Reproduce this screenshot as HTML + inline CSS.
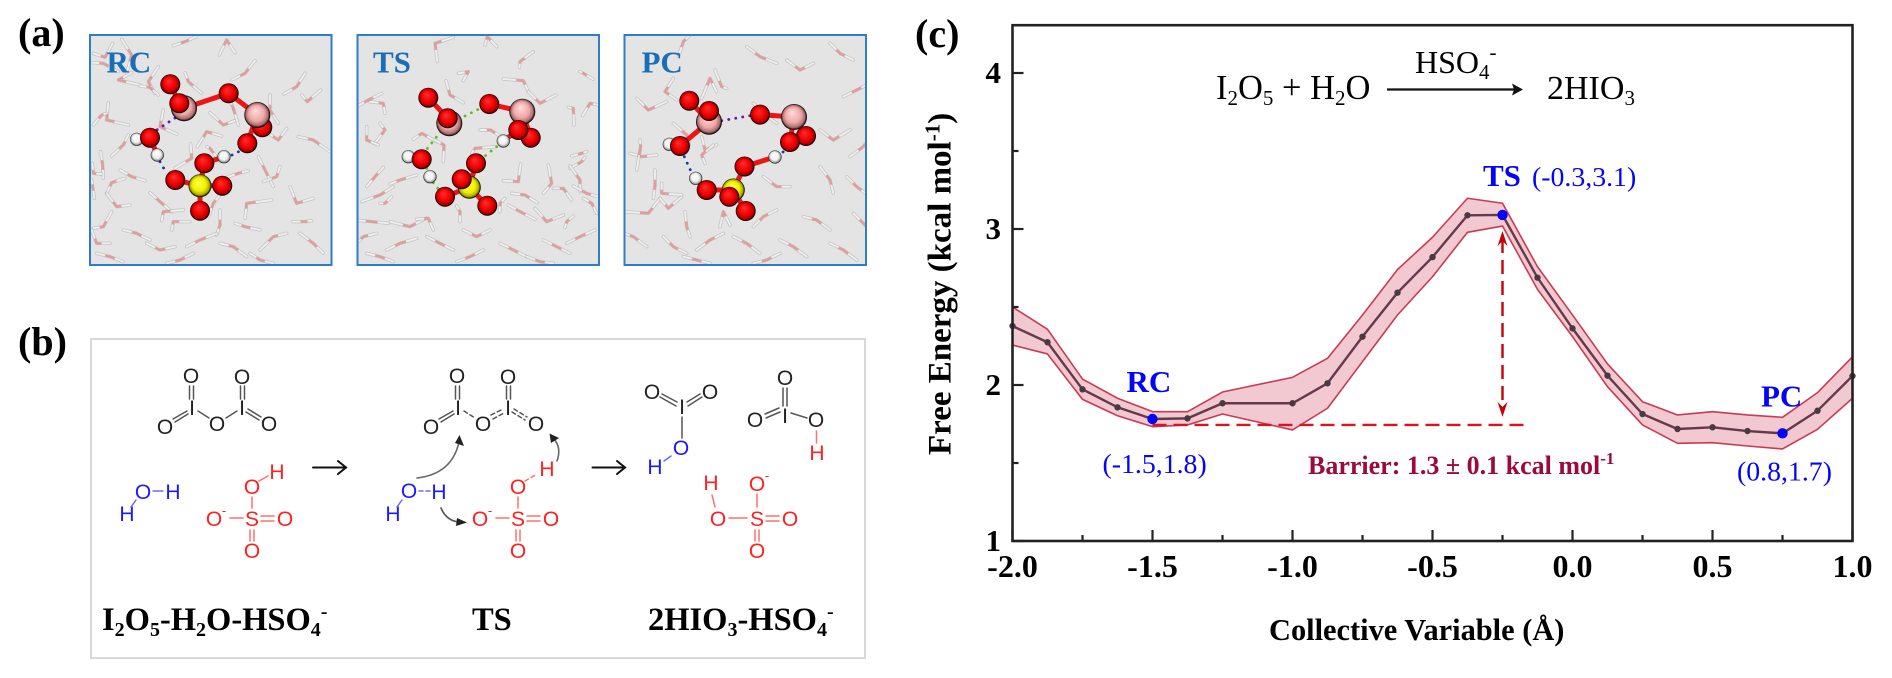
<!DOCTYPE html>
<html lang="en">
<head>
<meta charset="utf-8">
<title>Free energy profile of I2O5 hydrolysis</title>
<style>
html,body{margin:0;padding:0;background:#fff;width:1892px;height:678px;overflow:hidden}
svg{display:block}
text{font-family:"Liberation Serif",serif}
.chem text{font-family:"Liberation Sans",sans-serif;font-size:21px;text-anchor:middle}
.chem line,.chem path,.chem polyline{fill:none;stroke-linecap:round}
.bk text{fill:#222}.bk line{stroke:#555;stroke-width:1.5}
.bl text{fill:#1a1aff}.bl line{stroke:#6a6aff;stroke-width:1.5}
.rd text{fill:#ff2020}.rd line{stroke:#ff7070;stroke-width:1.5}
.dash line{stroke-dasharray:4 3}
</style>
</head>
<body>
<svg id="fig" xmlns="http://www.w3.org/2000/svg" width="1892" height="678" viewBox="0 0 1892 678">
<defs>
<radialGradient id="g-red" cx="50%" cy="50%" r="50%" fx="40%" fy="32%"><stop offset="0" stop-color="#ff3030"/><stop offset=".6" stop-color="#f00000"/><stop offset=".86" stop-color="#a80000"/><stop offset=".96" stop-color="#200000"/><stop offset="1" stop-color="#000"/></radialGradient>
<radialGradient id="g-pink" cx="50%" cy="50%" r="50%" fx="42%" fy="32%"><stop offset="0" stop-color="#ffdcdc"/><stop offset=".6" stop-color="#f0a8a8"/><stop offset=".86" stop-color="#a86e6e"/><stop offset=".96" stop-color="#201010"/><stop offset="1" stop-color="#000"/></radialGradient>
<radialGradient id="g-yellow" cx="50%" cy="50%" r="50%" fx="42%" fy="34%"><stop offset="0" stop-color="#ffff50"/><stop offset=".6" stop-color="#f0f000"/><stop offset=".86" stop-color="#a8a800"/><stop offset=".96" stop-color="#202000"/><stop offset="1" stop-color="#000"/></radialGradient>
<radialGradient id="g-white" cx="50%" cy="50%" r="50%" fx="42%" fy="34%"><stop offset="0" stop-color="#fff"/><stop offset=".6" stop-color="#f0f0f0"/><stop offset=".86" stop-color="#a8a8a8"/><stop offset=".96" stop-color="#222"/><stop offset="1" stop-color="#000"/></radialGradient>
<clipPath id="clip-rc"><rect x="90" y="35" width="242" height="230"/></clipPath>
<clipPath id="clip-ts"><rect x="357" y="35" width="242" height="230"/></clipPath>
<clipPath id="clip-pc"><rect x="624" y="35" width="242" height="230"/></clipPath>
</defs>

<text x="18" y="46" font-size="40" font-weight="bold">(a)</text>
<text x="18" y="355" font-size="40" font-weight="bold">(b)</text>
<text x="915" y="47" font-size="40" font-weight="bold">(c)</text>

<g id="snapshots"></g>

<g>
<rect x="91" y="339" width="774" height="319" fill="#fff" stroke="#d8d8d8" stroke-width="2"/>
<g class="chem">
<!-- reactant I2O5 -->
<g class="bk">
<text x="191" y="383">O</text><text x="242" y="384">O</text><text x="165" y="434">O</text><text x="217" y="431">O</text><text x="269" y="431">O</text>
<text x="192" y="415">I</text><text x="242" y="415">I</text>
<line x1="189.5" y1="386" x2="189.5" y2="399"/><line x1="193.5" y1="386" x2="193.5" y2="399"/>
<line x1="240.5" y1="386" x2="240.5" y2="399"/><line x1="244.5" y1="386" x2="244.5" y2="399"/>
<line x1="173" y1="419" x2="187" y2="411"/><line x1="175" y1="422" x2="188" y2="414"/>
<line x1="198" y1="411" x2="209" y2="418"/><line x1="226" y1="418" x2="237" y2="411"/>
<line x1="248" y1="409" x2="261" y2="417"/><line x1="246" y1="412" x2="259" y2="420"/>
</g>
<g class="bl">
<text x="143" y="499">O</text><text x="173" y="499">H</text><text x="127" y="521">H</text>
<line x1="153" y1="491" x2="163" y2="491"/><line x1="136" y1="500" x2="131" y2="507"/>
</g>
<g class="rd">
<text x="252" y="494">O</text><text x="277" y="479">H</text><text x="214" y="526">O</text><text x="252" y="526">S</text><text x="285" y="526">O</text><text x="252" y="558">O</text>
<text x="224" y="515" style="font-size:13px">-</text>
<line x1="259" y1="481" x2="268" y2="476"/><line x1="252" y1="497" x2="252" y2="508"/><line x1="230" y1="518" x2="243" y2="518"/>
<line x1="261" y1="516" x2="274" y2="516"/><line x1="261" y1="521" x2="274" y2="521"/>
<line x1="250" y1="530" x2="250" y2="541"/><line x1="254" y1="530" x2="254" y2="541"/>
</g>
<g><line x1="313" y1="467.5" x2="346" y2="467.5" stroke="#111" stroke-width="2"/><polyline points="338,461 346,467.5 338,474" stroke="#111" stroke-width="2"/></g>

<!-- TS -->
<g class="bk">
<text x="457" y="383">O</text><text x="508" y="384">O</text><text x="431" y="434">O</text><text x="483" y="431">O</text><text x="536" y="431">O</text>
<text x="458" y="415">I</text><text x="508" y="415">I</text>
<line x1="455.5" y1="386" x2="455.5" y2="399"/><line x1="459.5" y1="386" x2="459.5" y2="399"/>
<line x1="506.5" y1="386" x2="506.5" y2="399"/><line x1="510.5" y1="386" x2="510.5" y2="399"/>
<line x1="439" y1="419" x2="453" y2="411"/><line x1="441" y1="422" x2="454" y2="414"/>
<g class="dash"><line x1="464" y1="411" x2="475" y2="418"/><line x1="491" y1="415" x2="503" y2="409"/><line x1="493" y1="419" x2="504" y2="413"/><line x1="514" y1="409" x2="527" y2="417"/><line x1="512" y1="412" x2="525" y2="420"/></g>
</g>
<g class="bl">
<text x="409" y="498">O</text><text x="439" y="499">H</text><text x="393" y="521">H</text>
<g class="dash"><line x1="419" y1="491" x2="430" y2="491"/></g><line x1="402" y1="500" x2="397" y2="507"/>
</g>
<g class="rd">
<text x="518" y="494">O</text><text x="547" y="476">H</text><text x="480" y="526">O</text><text x="518" y="526">S</text><text x="551" y="526">O</text><text x="518" y="558">O</text>
<text x="490" y="515" style="font-size:13px">-</text>
<g class="dash"><line x1="525" y1="481" x2="537" y2="474"/></g><line x1="518" y1="497" x2="518" y2="508"/><line x1="496" y1="518" x2="509" y2="518"/>
<line x1="527" y1="516" x2="540" y2="516"/><line x1="527" y1="521" x2="540" y2="521"/>
<line x1="516" y1="530" x2="516" y2="541"/><line x1="520" y1="530" x2="520" y2="541"/>
</g>
<g><path d="M417 478 Q452 474 459 442" stroke="#666" stroke-width="1.6"/><polygon points="459.5,435 464,446 455,443" fill="#222"/></g>
<g><path d="M557 461 Q562 447 553 438" stroke="#666" stroke-width="1.6"/><polygon points="549.5,433.5 559,438 551,443" fill="#222"/></g>
<g><path d="M441 508 Q447 522 461 522" stroke="#555" stroke-width="1.6"/><polygon points="467,522.5 456,526 457,518" fill="#222"/></g>
<g><line x1="592.5" y1="467.5" x2="625" y2="467.5" stroke="#111" stroke-width="2"/><polyline points="617,461 625,467.5 617,474" stroke="#111" stroke-width="2"/></g>

<!-- Product -->
<g class="bk">
<text x="652" y="399">O</text><text x="710" y="399">O</text><text x="682" y="414">I</text>
<line x1="662" y1="394" x2="677" y2="402"/><line x1="660" y1="397" x2="676" y2="406"/>
<line x1="700" y1="394" x2="687" y2="402"/><line x1="702" y1="397" x2="688" y2="406"/>
<line x1="682" y1="417" x2="682" y2="438"/>
</g>
<g class="bl">
<text x="681" y="455">O</text><text x="655" y="474">H</text><line x1="671" y1="456" x2="664" y2="461"/>
</g>
<g class="bk">
<text x="785" y="385">O</text><text x="755" y="427">O</text><text x="785" y="423">I</text><text x="816" y="427">O</text>
<line x1="783" y1="388" x2="783" y2="406"/><line x1="787" y1="388" x2="787" y2="406"/>
<line x1="765" y1="414" x2="779" y2="408"/><line x1="766" y1="418" x2="780" y2="412"/>
<line x1="791" y1="413" x2="807" y2="418"/>
</g>
<g class="rd"><text x="817" y="460">H</text><line x1="816.5" y1="431" x2="816.5" y2="443"/></g>
<g class="rd">
<text x="711" y="490">H</text><text x="718" y="526">O</text><text x="757" y="526">S</text><text x="757" y="491">O</text><text x="790" y="526">O</text><text x="757" y="558">O</text>
<text x="767" y="480" style="font-size:13px">-</text>
<line x1="712" y1="495" x2="715" y2="507"/><line x1="729" y1="518" x2="747" y2="518"/><line x1="757" y1="494" x2="757" y2="507"/>
<line x1="766" y1="516" x2="779" y2="516"/><line x1="766" y1="521" x2="779" y2="521"/>
<line x1="755" y1="530" x2="755" y2="541"/><line x1="759" y1="530" x2="759" y2="541"/>
</g>
</g>
<text x="102" y="630" font-size="32.5" font-weight="bold">I<tspan dy="6" font-size="20">2</tspan><tspan dy="-6">O</tspan><tspan dy="6" font-size="20">5</tspan><tspan dy="-6">-H</tspan><tspan dy="6" font-size="20">2</tspan><tspan dy="-6">O-HSO</tspan><tspan dy="6" font-size="20">4</tspan><tspan dy="-18" font-size="20">-</tspan></text>
<text x="472" y="630" font-size="32.5" font-weight="bold">TS</text>
<text x="648" y="630" font-size="32.5" font-weight="bold">2HIO<tspan dy="6" font-size="20">3</tspan><tspan dy="-6">-HSO</tspan><tspan dy="6" font-size="20">4</tspan><tspan dy="-18" font-size="20">-</tspan></text>
</g>

<g id="chart"></g>

<text x="1216" y="99" font-size="34.5">I<tspan dy="6" font-size="21">2</tspan><tspan dy="-6">O</tspan><tspan dy="6" font-size="21">5</tspan><tspan dy="-6"> + H</tspan><tspan dy="6" font-size="21">2</tspan><tspan dy="-6">O</tspan></text>
<g><line x1="1387" y1="89.5" x2="1515" y2="89.5" stroke="#111" stroke-width="2.2"/><polygon points="1523,89.5 1512,83.5 1514,89.5 1512,95.5" fill="#111"/></g>
<text x="1415" y="73" font-size="32">HSO<tspan dy="6" font-size="21">4</tspan><tspan dy="-20" font-size="21">-</tspan></text>
<text x="1547" y="99" font-size="34">2HIO<tspan dy="6" font-size="21">3</tspan></text>
<text x="1308" y="474" font-size="26" font-weight="bold" fill="#9c0a3c">Barrier: 1.3 ± 0.1 kcal mol<tspan dy="-10" font-size="17">-1</tspan></text>

<script>
// ---- Chart data ----
const cvValues = [-2,-1.875,-1.75,-1.625,-1.5,-1.375,-1.25,-1,-0.875,-0.75,-0.625,-0.5,-0.375,-0.25,-0.125,0,0.125,0.25,0.375,0.5,0.625,0.75,0.875,1];
const freeEnergy = [2.378,2.274,1.972,1.857,1.782,1.786,1.883,1.883,2.011,2.31,2.592,2.82,3.088,3.09,2.688,2.363,2.06,1.814,1.718,1.729,1.705,1.69,1.835,2.058];
const upperBand = [2.5,2.357,2.038,1.915,1.829,1.829,1.955,2.049,2.171,2.449,2.74,2.947,3.197,3.165,2.758,2.449,2.135,1.893,1.808,1.829,1.808,1.793,1.951,2.181];
const lowerBand = [2.256,2.199,1.908,1.803,1.733,1.744,1.814,1.712,1.851,2.15,2.449,2.694,2.979,3.019,2.613,2.31,1.989,1.744,1.626,1.63,1.609,1.59,1.716,1.915];
const stateNames = ["RC","TS","PC"];
const stateCv = [-1.5,-0.25,0.75];
const stateEnergy = [1.782,3.09,1.69];
const stateCoords = ["(-1.5,1.8)","(-0.3,3.1)","(0.8,1.7)"];
const xMajorTicks = [-2,-1.5,-1,-0.5,0,0.5,1];
const xMinorTicks = [-1.75,-1.25,-0.75,-0.25,0.25,0.75];
const xTickLabels = ["-2.0","-1.5","-1.0","-0.5","0.0","0.5","1.0"];
const yMajorTicks = [1,2,3,4];
const yMinorTicks = [1.5,2.5,3.5];
const yTickLabels = ["1","2","3","4"];
const barrierBase = [1.744];
const barrierTop = [3.0];
const barrierSpanCv = [-1.5,-0.166];
const barrierArrowCv = [-0.25];

const SVGNS = "http://www.w3.org/2000/svg";
function xAxis(v){ return 1012.5 + (v + 2) * 280; }
function yAxis(v){ return 541 - (v - 1) * 156; }
function mk(parent, tag){ const e = document.createElementNS(SVGNS, tag); parent.appendChild(e); return e; }
function sets(e, o){ for (const k in o) e.setAttribute(k, o[k]); return e; }

const chart = document.getElementById("chart");

// band
const band = mk(chart, "polygon");


const upperPts = cvValues.map((c,i)=>xAxis(c)+","+yAxis(upperBand[i]));
const lowerPts = cvValues.map((c,i)=>xAxis(c)+","+yAxis(lowerBand[i])).reverse();
sets(band,{points:upperPts.concat(lowerPts).join(" "),fill:"#f2c9d1",stroke:"#c93a55","stroke-width":1.6,"stroke-linejoin":"round"});

// barrier annotation
const hDash = mk(chart, "line");


sets(hDash,{x1:xAxis(barrierSpanCv[0]),x2:xAxis(barrierSpanCv[1]),y1:yAxis(barrierBase[0]),y2:yAxis(barrierBase[0]),stroke:"#d8141e","stroke-width":2.4,"stroke-dasharray":"14 7"});
const ax = xAxis(barrierArrowCv[0]), ayTop = yAxis(barrierTop[0]) + 2, ayBot = yAxis(barrierBase[0]) - 8;
const vDash = mk(chart, "line");


sets(vDash,{x1:ax,x2:ax,y1:ayTop+8,y2:ayBot-8,stroke:"#c8000a","stroke-width":2.4,"stroke-dasharray":"14 7"});
const headTop = mk(chart, "polygon");


sets(headTop,{points:[ax,ayTop,ax+5,ayTop+15,ax,ayTop+10,ax-5,ayTop+15].join(" "),fill:"#c8000a"});
const headBot = mk(chart, "polygon");


sets(headBot,{points:[ax,ayBot,ax+5,ayBot-15,ax,ayBot-10,ax-5,ayBot-15].join(" "),fill:"#c8000a"});

// curve
const curve = mk(chart, "polyline");


sets(curve,{points:cvValues.map((c,i)=>xAxis(c)+","+yAxis(freeEnergy[i])).join(" "),fill:"none",stroke:"#66384a","stroke-width":2.4});
cvValues.forEach((c,i)=>{
  const d = mk(chart, "circle");
  
  
  sets(d,{cx:xAxis(c),cy:yAxis(freeEnergy[i]),r:3.2,fill:"#4a3a40"});
});

// labelled states
const nameOffsets = [[-26,-27],[-19.5,-29],[-21.5,-27]];
const coordOffsets = [[-50,54],[29.5,-29],[-45.5,47]];
stateNames.forEach((n,i)=>{
  const px = xAxis(stateCv[i]), py = yAxis(stateEnergy[i]);
  const dot = mk(chart, "circle");
  
  
  sets(dot,{cx:px,cy:py,r:5.2,fill:"#0505f5"});
  const nt = mk(chart, "text");
  
  
  sets(nt,{x:px+nameOffsets[i][0],y:py+nameOffsets[i][1],"font-size":31,"font-weight":"bold",fill:"#0505f5"});
  nt.textContent = n;
  const ct = mk(chart, "text");
  
  
  sets(ct,{x:px+coordOffsets[i][0],y:py+coordOffsets[i][1],"font-size":27.8,fill:"#0505f5"});
  ct.textContent = stateCoords[i];
});

// frame
const frame = mk(chart, "rect");


sets(frame,{x:xAxis(-2),y:yAxis(4.3)-1,width:xAxis(1)-xAxis(-2),height:yAxis(1)-yAxis(4.3)+1,fill:"none",stroke:"#222","stroke-width":2.6});

// ticks
xMajorTicks.forEach((v,i)=>{
  const t = mk(chart, "line");
  
  
  sets(t,{x1:xAxis(v),x2:xAxis(v),y1:yAxis(1),y2:yAxis(1)-11,stroke:"#222","stroke-width":2.2});
  const l = mk(chart, "text");
  
  
  sets(l,{x:xAxis(v),y:yAxis(1)+36,"font-size":32,"font-weight":"bold","text-anchor":"middle"});
  l.textContent = xTickLabels[i];
});
xMinorTicks.forEach(v=>{
  const t = mk(chart, "line");
  
  
  sets(t,{x1:xAxis(v),x2:xAxis(v),y1:yAxis(1),y2:yAxis(1)-6,stroke:"#222","stroke-width":2.2});
});
yMajorTicks.forEach((v,i)=>{
  const t = mk(chart, "line");
  
  
  sets(t,{x1:xAxis(-2),x2:xAxis(-2)+11,y1:yAxis(v),y2:yAxis(v),stroke:"#222","stroke-width":2.2});
  const l = mk(chart, "text");
  
  
  sets(l,{x:1001,y:yAxis(v)+10,"font-size":31,"font-weight":"bold","text-anchor":"end"});
  l.textContent = yTickLabels[i];
});
yMinorTicks.forEach(v=>{
  const t = mk(chart, "line");
  
  
  sets(t,{x1:xAxis(-2),x2:xAxis(-2)+6,y1:yAxis(v),y2:yAxis(v),stroke:"#222","stroke-width":2.2});
});

// axis titles
const xTitle = mk(chart, "text");


sets(xTitle,{x:1269,y:640,"font-size":30.4,"font-weight":"bold"});
xTitle.textContent = "Collective Variable (Å)";
const yTitle = mk(chart, "text");


sets(yTitle,{x:0,y:0,transform:"translate(950.5 455) rotate(-90)","font-size":33,"font-weight":"bold"});
yTitle.textContent = "Free Energy (kcal mol";
const yTitleSup = mk(yTitle, "tspan");
sets(yTitleSup,{dy:-11,"font-size":21});
yTitleSup.textContent = "-1";
const yTitleEnd = mk(yTitle, "tspan");
sets(yTitleEnd,{dy:11});
yTitleEnd.textContent = ")";

// ---- MD snapshots (coordinates in px) ----
const waterRC = [[375,35,340,47,408,20],[500,30,478,75,525,68],[135,82,100,70,158,40],[130,100,96,98,175,125],[215,75,185,28,200,130],[175,150,240,165,215,128],[265,155,295,110,285,190],[270,172,240,168,295,195],[140,270,145,218,205,285],[125,255,100,285,140,250],[300,290,310,240,350,312],[385,155,375,128,425,190],[555,130,585,92,515,150],[710,170,735,130,672,192],[742,215,725,195,782,180],[630,240,630,195,655,280],[490,285,450,248,530,270],[520,235,505,205,535,285],[440,305,412,350,485,318],[655,330,610,300,680,295],[760,330,715,320,810,365],[190,345,155,378,205,315],[128,405,122,365,130,445],[395,385,392,342,345,415],[450,355,440,350,480,395],[615,420,595,380,640,470],[650,440,610,455,660,410],[535,430,505,440,565,422],[215,440,180,420,255,452],[155,458,140,490,195,445],[170,530,140,490,210,525],[100,430,97,400,125,432],[98,470,95,450,103,505],[300,515,270,488,335,545],[310,545,305,572,370,540],[460,520,445,560,480,495],[560,520,555,565,635,510],[710,520,690,470,760,505],[130,590,100,595,155,545],[340,575,335,600,390,575],[480,585,480,540,470,615],[555,590,525,580,600,600],[735,575,698,575,755,572],[110,640,95,600,150,640],[230,610,190,600,270,630],[300,660,260,640,345,650],[420,630,380,650,470,610],[520,650,480,640,560,680],[640,620,600,660,680,610],[760,640,720,610,790,670],[150,680,110,670,190,695],[360,690,320,700,400,670],[600,690,570,670,640,700]];
const waterTS = [[105,40,160,22,112,95],[262,20,255,45,290,50],[360,95,400,65,358,112],[205,125,175,130,190,152],[370,152,310,147,385,185],[420,220,385,185,468,195],[150,195,138,152,190,218],[520,235,505,232,522,285],[570,220,548,257,595,225],[272,300,240,300,310,325],[550,130,540,125,580,148],[65,310,40,328,110,335],[132,345,105,330,130,395],[0,450,-30,462,50,435],[225,355,215,370,285,350],[545,370,515,378,560,365],[545,395,510,415,555,382],[455,460,445,405,430,490],[355,455,310,452,362,402],[540,450,510,408,540,485],[490,475,460,475,515,510],[560,490,520,468,595,500],[375,495,335,490,412,518],[300,520,315,505,300,545],[440,575,405,535,490,555],[360,545,325,525,405,568],[500,575,495,592,520,558],[575,520,550,505,590,550],[180,545,170,528,180,575],[30,590,-30,575,78,565],[85,565,50,568,100,600],[-75,440,-50,412,-100,470],[-60,495,-115,515,-20,470],[-50,220,-90,215,-45,250],[-95,210,-130,230,-55,190],[-45,300,-60,280,-75,340],[-100,330,-100,290,-65,345],[-85,575,-135,570,-35,580],[-45,520,-60,520,-25,500],[-110,620,-130,640,-70,610],[0,640,-40,660,50,625],[120,640,80,620,160,660],[230,620,190,600,270,600],[340,660,300,640,380,680],[470,650,430,630,510,670],[540,620,500,640,585,600],[-60,680,-100,670,-20,695],[210,680,170,695,250,660],[420,695,380,680,460,700]];
const waterPC = [[850,35,835,80,870,15],[795,185,820,145,830,210],[745,240,710,205,800,215],[930,145,905,205,950,185],[965,170,945,120,980,175],[860,315,820,280,868,345],[725,380,690,370,770,375],[722,350,720,330,710,420],[915,360,905,320,950,345],[905,375,940,345,915,400],[765,465,765,420,760,505],[745,550,675,545,780,505],[805,535,780,505,845,500],[785,490,785,460,845,495],[860,590,855,545,870,620],[970,545,960,590,990,585],[1080,80,1040,50,1130,100],[1200,120,1160,90,1240,100],[1320,70,1290,40,1360,90],[1370,180,1330,200,1410,160],[1090,250,1060,220,1130,280],[1300,330,1260,300,1350,300],[1390,350,1350,380,1420,310],[1130,470,1090,440,1170,470],[1290,450,1260,410,1300,490],[1370,470,1340,440,1410,500],[1090,560,1060,590,1130,540],[1250,570,1210,560,1290,600],[1390,580,1360,550,1420,610],[700,620,670,610,740,650],[820,650,790,620,860,670],[930,630,890,660,970,610],[1040,640,1000,620,1080,670],[1180,650,1140,630,1220,680],[1330,660,1290,640,1370,690],[1460,650,1430,620,1490,690],[1460,250,1430,280,1490,230],[1450,450,1420,420,1490,470],[890,690,850,680,930,700],[1100,690,1060,700,1140,670]];

// atoms: type, x, y (px)
const atomsRC = [["o",262.3,127.3],["i",257.3,115],["o",170.3,84.3],["i",184,108.3],["o",179.3,103.3],["o",228.7,93.3],["o",247.3,143.3],["h",136.7,139.3],["o",150,137.7],["h",157.3,155],["h",224,156.7],["o",204.3,163.3],["o",175.3,180],["o",222.3,185.7],["s",200,185.7],["o",200,210.7]];
const bondsRC = [[170.3,84.3,179.3,103.3],[184,108.3,228.7,93.3],[228.7,93.3,257.3,115],[257.3,115,247.3,143.3],[257.3,115,262.3,127.3],[150,137.7,136.7,139.3],[150,137.7,157.3,155],[204.3,163.3,224,156.7],[204.3,163.3,200,185.7],[175.3,180,200,185.7],[222.3,185.7,200,185.7],[200,185.7,200,210.7]];
const dotsRC = [[175,118,156.7,130,"#6a14a8"],[160,161.7,167,174,"#1a3a9c"],[232,155,239,151.5,"#1a3a9c"]];
const atomsTS = [["o",530.7,137.7],["i",522.3,111.7],["o",518.3,130],["o",489.3,104],["i",449.3,123.3],["o",428.3,97.7],["o",447.7,118.3],["h",408.3,156.7],["o",421.7,159.3],["h",430,176.7],["h",503.3,141],["o",476,163.3],["o",445,196.7],["s",469.3,187.3],["o",461.7,179.3],["o",487.3,205.7]];
const bondsTS = [[428.3,97.7,447.7,118.3],[489.3,104,522.3,111.7],[522.3,111.7,518.3,130],[522.3,111.7,530.7,137.7],[518.3,130,503.3,141],[421.7,159.3,408.3,156.7],[476,163.3,469.3,187.3],[445,196.7,469.3,187.3],[469.3,187.3,487.3,205.7]];
const dotsTS = [[465,116,478.3,109.3,"#66bb22"],[440.7,131.7,426.7,149.3,"#66bb22"],[426.7,168.3,429.3,171.7,"#66bb22"],[433.3,182.7,438.3,189,"#66bb22"],[496.7,146.7,480,160,"#66bb22"]];
const atomsPC = [["o",689.3,100.7],["i",709,121.7],["o",709,111],["h",669.3,144.3],["o",680,146],["h",695.7,178.3],["o",706.7,190],["o",760,114.6],["o",806,136],["o",790,142],["i",794,117],["h",775,157],["o",744.5,166.5],["s",733.3,190],["o",729.3,196.7],["o",745.7,211]];
const bondsPC = [[689.3,100.7,709,121.7],[709,121.7,680,146],[680,146,669.3,144.3],[760,114.6,794,117],[794,117,806,136],[794,117,790,142],[744.5,166.5,775,157],[744.5,166.5,733.3,190],[706.7,190,733.3,190],[733.3,190,745.7,211]];
const dotsPC = [[684.3,156.7,691.7,173,"#1a3a9c"],[721.7,120.7,751,115.5,"#6a14a8"],[783,152,786,150,"#1a3a9c"]];

const panels = [
 {id:"rc",x:90,label:"RC",lx:106.5,w:waterRC,a:atomsRC,b:bondsRC,d:dotsRC,ox:60,oy:30},
 {id:"ts",x:357.5,label:"TS",lx:373,w:waterTS,a:atomsTS,b:bondsTS,d:dotsTS,ox:400,oy:30},
 {id:"pc",x:624.5,label:"PC",lx:641.5,w:waterPC,a:atomsPC,b:bondsPC,d:dotsPC,ox:400,oy:30}
];
const atomFill = {o:"url(#g-red)",i:"url(#g-pink)",s:"url(#g-yellow)",h:"url(#g-white)"};
const atomR = {o:10,i:13,s:11.5,h:6.6};
const snap = document.getElementById("snapshots");
panels.forEach(p=>{
  const g = mk(snap, "g");
  
  
  const r = mk(g, "rect");
  
  
  sets(r,{x:p.x,y:35,width:241.5,height:230,fill:"#e4e4e4"});
  const cg = mk(g, "g");
  cg.setAttribute('clip-path', 'url(#clip-' + p.id + ')');
  p.w.forEach(w=>{
    const X = v => p.ox + v / 3, Y = v => p.oy + v / 3;
    const pts = [X(w[2]),Y(w[3]),X(w[0]),Y(w[1]),X(w[4]),Y(w[5])].join(" ");
    const wg = mk(cg, "g");
    
    
    wg.setAttribute('opacity', '0.8');
    const o1 = mk(wg, "polyline");
    sets(o1,{points:pts,fill:"none",stroke:"#a8a8a8","stroke-width":3.4,"stroke-linecap":"round","stroke-linejoin":"round","stroke-opacity":.7});
    const o2 = mk(wg, "polyline");
    sets(o2,{points:pts,fill:"none",stroke:"#f2f2f2","stroke-width":1.9,"stroke-linecap":"round","stroke-linejoin":"round"});
    const mx1 = X(w[0]+(w[2]-w[0])*.36), my1 = Y(w[1]+(w[3]-w[1])*.36);
    const mx2 = X(w[0]+(w[4]-w[0])*.36), my2 = Y(w[1]+(w[5]-w[1])*.36);
    const o3 = mk(wg, "polyline");
    sets(o3,{points:[mx1,my1,X(w[0]),Y(w[1]),mx2,my2].join(" "),fill:"none",stroke:"#e08c8c","stroke-width":2.5,"stroke-linejoin":"round"});
  });
  p.b.forEach(b=>{
    const bl = mk(cg, "line");
    
    
    sets(bl,{x1:b[0],y1:b[1],x2:b[2],y2:b[3],stroke:"#ee1414","stroke-width":5});
  });
  p.d.forEach(d=>{
    const dl = mk(cg, "line");
    
    
    sets(dl,{x1:d[0],y1:d[1],x2:d[2],y2:d[3],stroke:d[4],"stroke-width":2.8,"stroke-linecap":"round","stroke-dasharray":"0.1 7"});
  });
  p.a.forEach(a=>{
    const c = mk(cg, "circle");
    
    
    sets(c,{cx:a[1],cy:a[2],r:atomR[a[0]],fill:atomFill[a[0]]});
  });
  const f = mk(g, "rect");
  
  
  sets(f,{x:p.x,y:35,width:241.5,height:230,fill:"none",stroke:"#2f7dc6","stroke-width":2});
  const t = mk(g, "text");
  
  
  sets(t,{x:p.lx,y:72.5,"font-size":31,"font-weight":"bold",fill:"#1a6eb8"});
  t.textContent = p.label;
});
</script>
</svg>
</body>
</html>
